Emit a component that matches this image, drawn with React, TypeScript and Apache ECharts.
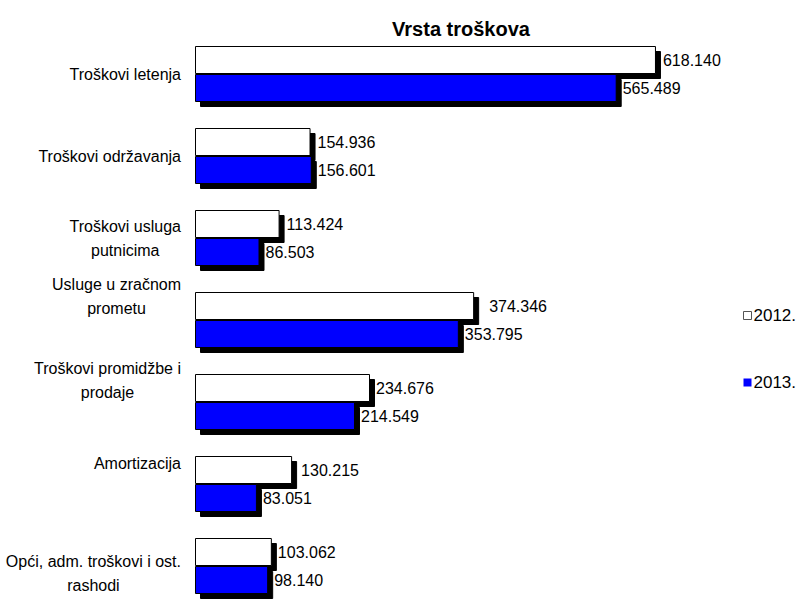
import React, { useEffect, useRef } from "react";
import * as echarts from "echarts";

const title = "Vrsta troškova";
const categories = [
  "Troškovi letenja",
  "Troškovi održavanja",
  "Troškovi usluga\nputnicima",
  "Usluge u zračnom\nprometu",
  "Troškovi promidžbe i\nprodaje",
  "Amortizacija",
  "Opći, adm. troškovi i ost.\nrashodi",
];
const seriesNames = ["2012.", "2013."];
const values2012 = [618.14, 154.936, 113.424, 374.346, 234.676, 130.215, 103.062];
const values2013 = [565.489, 156.601, 86.503, 353.795, 214.549, 83.051, 98.14];

// styling: label gaps and category-label vertical nudges (px)
const labelGap2012 = [7, 7, 7, 15, 6, 9, 6];
const labelGap2013 = [6, 6, 6, 6, 6, 6, 6];
const catLabelShift = [0, 0, 0, -24, -22, -21, 7];

const FONT = "'Liberation Sans', Arial, sans-serif";

export default function App() {
  const ref = useRef<HTMLDivElement>(null);
  useEffect(() => {
    if (!ref.current) return;
    const chart = echarts.init(ref.current, null, { renderer: "svg" });
    const mk = (vals: number[], gaps: number[]) =>
      vals.map((v, i) => ({ value: v, label: { distance: gaps[i] } }));
    const labelCfg = {
      show: true,
      position: "right",
      color: "#000",
      fontSize: 16,
      fontFamily: FONT,
      formatter: (p: any) => Number(p.value).toFixed(3),
    };
    const noShadow = { shadowBlur: 0, shadowOffsetX: 0, shadowOffsetY: 0, shadowColor: "transparent" };
    const catData = categories.map((c, i) => {
      const s = catLabelShift[i];
      return {
        value: c,
        textStyle: { padding: s < 0 ? [0, 0, -2 * s, 0] : [2 * s, 0, 0, 0] },
      };
    });
    chart.setOption({
      animation: false,
      backgroundColor: "#fff",
      textStyle: { fontFamily: FONT },
      title: {
        text: title,
        left: 456,
        top: 14,
        textAlign: "center",
        textStyle: { fontSize: 20, fontWeight: "bold", color: "#000", fontFamily: FONT },
      },
      legend: {
        orient: "vertical",
        left: 738,
        top: 302,
        itemGap: 50,
        itemWidth: 8,
        itemHeight: 8,
        icon: "rect",
        textStyle: { fontSize: 17, color: "#000", fontFamily: FONT, padding: [0, 0, 0, -3] },
        data: [
          { name: seriesNames[0], itemStyle: { color: "#fff", borderColor: "#555", borderWidth: 1, ...noShadow } },
          { name: seriesNames[1], itemStyle: { color: "#0000ff", borderColor: "#0000ff", borderWidth: 0, ...noShadow } },
        ],
      },
      grid: { left: 195, top: 33, width: 522, height: 574, containLabel: false, outerBoundsMode: "none" },
      xAxis: {
        type: "value",
        min: 0,
        max: 700,
        show: false,
      },
      yAxis: {
        type: "category",
        inverse: true,
        data: catData,
        axisLine: { show: false },
        axisTick: { show: false },
        splitLine: { show: false },
        axisLabel: {
          margin: 14,
          color: "#000",
          fontSize: 16,
          lineHeight: 24,
          fontFamily: FONT,
          formatter: (v: string) =>
            v.split("\n").map((l) => `{c|${l}}`).join("\n"),
          rich: { c: { align: "center", fontSize: 16, lineHeight: 24, color: "#000", fontFamily: FONT } },
        },
      },
      series: [
        {
          name: seriesNames[0],
          type: "bar",
          barWidth: 28,
          barGap: "0%",
          data: mk(values2012, labelGap2012),
          itemStyle: {
            color: "#fff",
            borderColor: "#000",
            borderWidth: 1,
            shadowColor: "#000",
            shadowBlur: 0,
            shadowOffsetX: 5,
            shadowOffsetY: 5,
          },
          label: labelCfg,
        },
        {
          name: seriesNames[1],
          type: "bar",
          barWidth: 28,
          barGap: "0%",
          data: mk(values2013, labelGap2013),
          itemStyle: {
            color: "#0000ff",
            borderColor: "#000",
            borderWidth: 1,
            shadowColor: "#000",
            shadowBlur: 0,
            shadowOffsetX: 5,
            shadowOffsetY: 5,
          },
          label: labelCfg,
        },
      ],
    });
    return () => chart.dispose();
  }, []);
  return <div ref={ref} style={{ width: 800, height: 599, position: "absolute", left: 0, top: 0 }} />;
}
